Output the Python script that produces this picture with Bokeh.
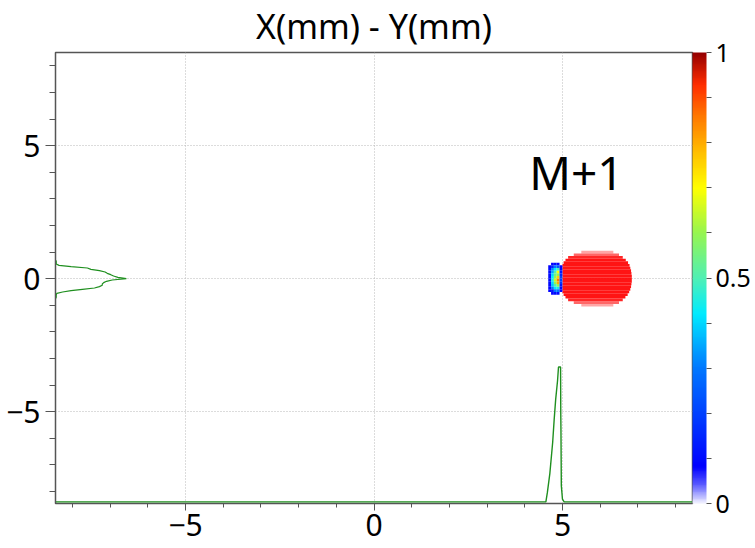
import numpy as np
from bokeh.plotting import figure
from bokeh.models import (LinearColorMapper, ColorBar, FixedTicker, Range1d,
                          ColumnDataSource)
from bokeh.embed import file_html
from bokeh.resources import INLINE
from bokeh.core.properties import value

# ---------------- data ----------------
x_major = [-5, 0, 5]
y_major = [-5, 0, 5]
xy_minor = list(range(-8, 9))
cbar_major = [0, 0.5, 1]
cbar_minor = [0.1, 0.2, 0.3, 0.4, 0.6, 0.7, 0.8, 0.9]

# red "M+1" cloud: per row (y) left / right extent and row density
cloud_y = [1.0, 0.9, 0.8, 0.7, 0.6, 0.5, 0.4, 0.3, 0.2, 0.1, 0.0,
           -0.1, -0.2, -0.3, -0.4, -0.5, -0.6, -0.7, -0.8, -0.9, -1.0]
cloud_left = [5.5, 5.3, 5.15, 5.08, 5.03, 5.0, 5.0, 5.0, 5.0, 5.0, 5.0,
              5.0, 5.0, 5.0, 5.0, 5.0, 5.03, 5.08, 5.15, 5.3, 5.5]
cloud_right = [6.35, 6.5, 6.6, 6.68, 6.74, 6.78, 6.8, 6.82, 6.83, 6.84, 6.84,
               6.84, 6.83, 6.82, 6.8, 6.77, 6.73, 6.67, 6.6, 6.5, 6.35]
cloud_density = [0.35, 0.6, 0.85, 0.92, 0.92, 0.92, 0.92, 0.92, 0.92, 0.92, 0.92,
                 0.92, 0.92, 0.92, 0.92, 0.92, 0.92, 0.92, 0.85, 0.6, 0.35]

# main spot: 2D histogram (normalised intensity)
spot_x = [4.66, 4.735, 4.81, 4.885, 4.96]
spot_y = [0.55, 0.45, 0.35, 0.25, 0.15, 0.05, -0.05, -0.15, -0.25, -0.35, -0.45, -0.55]
spot_v = [
    [0.00, 0.08, 0.10, 0.08, 0.00],
    [0.08, 0.15, 0.30, 0.25, 0.08],
    [0.10, 0.32, 0.42, 0.50, 0.10],
    [0.10, 0.35, 0.50, 0.70, 0.12],
    [0.10, 0.40, 0.55, 0.60, 0.15],
    [0.10, 0.42, 0.60, 0.75, 0.20],
    [0.10, 0.45, 0.65, 0.85, 0.20],
    [0.10, 0.40, 0.60, 0.80, 0.18],
    [0.10, 0.38, 0.50, 0.60, 0.12],
    [0.08, 0.30, 0.42, 0.45, 0.10],
    [0.08, 0.12, 0.30, 0.30, 0.08],
    [0.00, 0.08, 0.10, 0.10, 0.00],
]

# Y projection (drawn along the left edge)
yprof_y = [0.70, 0.65, 0.60, 0.55, 0.50, 0.45, 0.40, 0.35, 0.30, 0.25, 0.20,
           0.15, 0.10, 0.05, 0.00, -0.05, -0.10, -0.15, -0.20, -0.25, -0.30,
           -0.35, -0.40, -0.45, -0.50, -0.55, -0.60, -0.65, -0.70, -0.75]
yprof_c = [0.0, 0.01, 0.01, 0.01, 0.05, 0.22, 0.45, 0.50, 0.62, 0.70, 0.73,
           0.78, 0.82, 0.88, 1.00, 0.80, 0.72, 0.68, 0.66, 0.66, 0.62,
           0.55, 0.38, 0.22, 0.10, 0.02, 0.01, 0.01, 0.01, 0.0]

# X projection (drawn along the bottom edge)
xprof_x = [4.56, 4.60, 4.665, 4.74, 4.78, 4.82, 4.87, 4.895, 4.95, 4.955,
           4.96, 4.97, 5.0, 5.045]
xprof_c = [0.0, 0.07, 0.21, 0.44, 0.61, 0.76, 0.90, 1.0, 1.0, 0.66,
           0.53, 0.12, 0.02, 0.0]

# ---------------- styling / layout ----------------
XR = (-8.45, 8.45)
YR = (-8.45, 8.5)
FONT = "Noto Sans"

anchors = [(0.00, (236, 236, 255)), (0.04, (90, 90, 255)), (0.08, (0, 0, 255)),
           (0.30, (0, 120, 255)), (0.42, (0, 235, 255)), (0.50, (80, 240, 180)),
           (0.60, (150, 245, 80)), (0.70, (255, 255, 0)), (0.78, (255, 190, 0)),
           (0.86, (255, 120, 0)), (0.93, (255, 45, 0)), (1.00, (150, 0, 0))]
pos = np.array([a[0] for a in anchors])
cols = np.array([a[1] for a in anchors], dtype=float)
t = np.linspace(0, 1, 256)
palette = ["#%02x%02x%02x" % tuple(int(round(np.interp(tt, pos, cols[:, k]))) for k in range(3))
           for tt in t]
mapper = LinearColorMapper(palette=palette, low=0, high=1)

p = figure(width=755, height=548, output_backend="svg", toolbar_location=None,
           x_range=Range1d(*XR), y_range=Range1d(*YR),
           min_border_left=55, min_border_top=52, min_border_bottom=45,
           min_border_right=63)
p.background_fill_color = "white"
p.border_fill_color = "white"
p.outline_line_color = "#555555"
p.outline_line_width = 1.5

p.title.text = "X(mm) - Y(mm)"
p.title.align = "center"
p.title.vertical_align = "top"
p.title.text_font = FONT
p.title.text_font_size = "34px"
p.title.text_font_style = "normal"
p.title.text_color = "black"
p.title.standoff = 4

for ax in (p.xaxis[0], p.yaxis[0]):
    ax.major_label_text_font = FONT
    ax.major_label_text_font_size = "30px"
    ax.major_label_text_color = "black"
    ax.axis_line_color = "#555555"
    ax.major_tick_line_color = "#555555"
    ax.minor_tick_line_color = "#555555"
    ax.major_tick_in = 0
    ax.minor_tick_in = 0
p.xaxis.ticker = FixedTicker(ticks=x_major, minor_ticks=xy_minor)
p.yaxis.ticker = FixedTicker(ticks=y_major, minor_ticks=xy_minor)
p.xaxis.major_tick_out = 7
p.xaxis.minor_tick_out = 4
p.yaxis.major_tick_out = 10
p.yaxis.minor_tick_out = 6
p.xaxis.major_label_standoff = 3
p.yaxis.major_label_standoff = 5

for g in (p.xgrid[0], p.ygrid[0]):
    g.grid_line_color = "#b8b8b8"
    g.grid_line_dash = "1 2"
    g.grid_line_width = 1
p.xgrid.ticker = FixedTicker(ticks=x_major)
p.ygrid.ticker = FixedTicker(ticks=y_major)

# cloud
cloud_src = ColumnDataSource(dict(y=cloud_y, left=cloud_left, right=cloud_right,
                                  a=cloud_density))
p.hbar(y="y", left="left", right="right", height=0.1, source=cloud_src,
       fill_color="#ff0000", fill_alpha="a", line_color=None)

# spot
sx, sy, sv = [], [], []
for j, row in enumerate(spot_v):
    for i, v in enumerate(row):
        if v > 0:
            sx.append(spot_x[i]); sy.append(spot_y[j]); sv.append(v)
p.rect(x="x", y="y", width=0.075, height=0.1,
       fill_color={"field": "v", "transform": mapper}, line_color=None,
       source=ColumnDataSource(dict(x=sx, y=sy, v=sv)))

# projections
Y_SCALE = 1.88
X_SCALE = 5.07
X_BASE = -8.39
p.line(x=[XR[0] + c * Y_SCALE for c in yprof_c], y=yprof_y,
       line_color="#1f8f1f", line_width=1.2)
p.line(x=[XR[0]] + xprof_x + [XR[1]],
       y=[X_BASE] + [X_BASE + c * X_SCALE for c in xprof_c] + [X_BASE],
       line_color="#1f8f1f", line_width=1.4)

p.text(x=[4.12], y=[4.0], text=["M+1"], text_font=value(FONT),
       text_font_size="46px", text_color="black", text_baseline="middle",
       text_align="left")

cb = ColorBar(color_mapper=mapper,
              ticker=FixedTicker(ticks=cbar_major, minor_ticks=cbar_minor),
              major_label_overrides={0: "0", 0.5: "0.5", 1: "1"},
              width=14, margin=1, padding=0, label_standoff=4,
              major_label_text_font=FONT, major_label_text_font_size="25px",
              major_label_text_color="black",
              major_tick_in=0, major_tick_out=5, minor_tick_in=0, minor_tick_out=5,
              major_tick_line_color="#555555", minor_tick_line_color="#555555",
              bar_line_color=None, border_line_color=None,
              background_fill_color=None)
p.add_layout(cb, "right")

open("out.html", "w").write(file_html(p, INLINE))
